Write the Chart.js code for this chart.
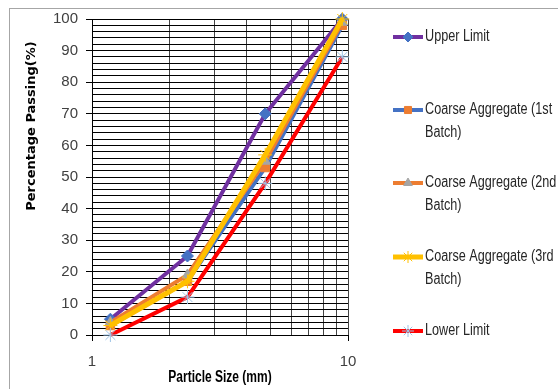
<!DOCTYPE html>
<html>
<head>
<meta charset="utf-8">
<script src="https://cdn.jsdelivr.net/npm/chart.js@4.4.1/dist/chart.umd.min.js"></script>
<style>
html, body { margin: 0; padding: 0; background: #fff; }
#wrap { width: 558px; height: 389px; }
</style>
</head>
<body>
<div id="wrap"><canvas id="gradingChart" width="558" height="389"></canvas></div>
<script>
// sieve sizes (mm) and % passing
const sieveSizes = [1.18, 2.36, 4.75, 9.5];
const upperLimit = [5, 25, 70, 100];
const batch1 = [3, 17, 53, 98];
const batch2 = [4, 19, 55, 99];
const batch3 = [3, 17, 57, 100];
const lowerLimit = [0, 12, 48, 88];

const seriesNames = ['Upper Limit', 'Coarse Aggregate (1st Batch)', 'Coarse Aggregate (2nd Batch)', 'Coarse Aggregate (3rd Batch)', 'Lower Limit'];
const legendLines = [['Upper Limit'], ['Coarse Aggregate (1st', 'Batch)'], ['Coarse Aggregate (2nd', 'Batch)'], ['Coarse Aggregate (3rd', 'Batch)'], ['Lower Limit']];
const xTickLabels = [1, 10];
const yTickLabels = [0, 10, 20, 30, 40, 50, 60, 70, 80, 90, 100];
const xTitle = 'Particle Size (mm)';
const yTitle = 'Percentage Passing(%)';

function points(values) {
    return sieveSizes.map((x, i) => ({ x: x, y: values[i] }));
}

const sans = '"Liberation Sans", Arial, sans-serif';

// squeeze text a bit so it looks like the narrow Excel font
function narrowText(ctx, text, x, y, squeeze) {
    let w = ctx.measureText(text).width;
    ctx.fillText(text, x, y, w * squeeze);
}

// grey frame round the whole chart, like the Excel chart area
const framePlugin = {
    id: 'frame',
    beforeDraw(chart) {
        let ctx = chart.ctx;
        ctx.save();
        ctx.strokeStyle = '#a6a6a6';
        ctx.lineWidth = 1;
        ctx.strokeRect(9.5, 8.5, 600, 420);
        ctx.restore();
    }
};

const titlesPlugin = {
    id: 'titles',
    afterDraw(chart) {
        let ctx = chart.ctx;
        ctx.save();
        ctx.fillStyle = '#000';
        ctx.textAlign = 'center';
        ctx.textBaseline = 'middle';
        ctx.font = 'bold 16px ' + sans;
        narrowText(ctx, xTitle, 220, 378, 0.75);
        ctx.translate(32, 126);
        ctx.rotate(-Math.PI / 2);
        ctx.font = 'bold 13px "DejaVu Sans", sans-serif';
        ctx.fillText(yTitle, 0, 0);
        ctx.restore();
    }
};

// legend on the right with wrapped labels
const legendPlugin = {
    id: 'sideLegend',
    afterDraw(chart) {
        let ctx = chart.ctx;
        let ys = [37, 110, 183, 257, 331];
        ctx.save();
        chart.data.datasets.forEach((ds, i) => {
            let y = ys[i];
            ctx.strokeStyle = ds.borderColor;
            ctx.lineWidth = ds.borderWidth;
            ctx.beginPath();
            ctx.moveTo(393, y);
            ctx.lineTo(423, y);
            ctx.stroke();
            ctx.fillStyle = ds.pointBackgroundColor;
            ctx.strokeStyle = ds.pointBorderColor;
            ctx.lineWidth = ds.pointBorderWidth;
            Chart.helpers.drawPoint(ctx, {
                pointStyle: ds.pointStyle,
                radius: ds.pointRadius - 1,
                borderWidth: ds.pointBorderWidth,
                rotation: 0
            }, 408, y);
            ctx.fillStyle = '#262626';
            ctx.font = '16px ' + sans;
            ctx.textAlign = 'left';
            ctx.textBaseline = 'middle';
            legendLines[i].forEach((line, k) => {
                narrowText(ctx, line, 425, y + k * 23, 0.79);
            });
        });
        ctx.restore();
    }
};

function makeSet(i, values, lineColor, lineWidth, style, radius, fill, edge) {
    return {
        label: seriesNames[i],
        data: points(values),
        borderColor: lineColor,
        borderWidth: lineWidth,
        tension: 0,
        pointStyle: style,
        pointRadius: radius,
        pointBackgroundColor: fill,
        pointBorderColor: edge,
        pointBorderWidth: 1,
        order: 4 - i,
        clip: false
    };
}

let ctx = document.getElementById('gradingChart').getContext('2d');

new Chart(ctx, {
    type: 'line',
    data: {
        datasets: [
            makeSet(0, upperLimit, '#7030A0', 4, 'rectRot', 6, '#4472C4', '#4472C4'),
            makeSet(1, batch1, '#4472C4', 4, 'rect', 6, '#ED7D31', '#ED7D31'),
            makeSet(2, batch2, '#ED7D31', 4, 'triangle', 6, '#A5A5A5', '#A5A5A5'),
            makeSet(3, batch3, '#FFC000', 5, 'star', 7, '#FFC000', '#FFC000'),
            makeSet(4, lowerLimit, '#FF0000', 4, 'star', 7, '#9DC3E6', '#9DC3E6')
        ]
    },
    options: {
        responsive: false,
        animation: false,
        devicePixelRatio: 1,
        layout: { padding: { left: 10, top: 19, right: 210, bottom: 0 } },
        plugins: {
            legend: { display: false },
            tooltip: { enabled: false }
        },
        scales: {
            x: {
                type: 'logarithmic',
                min: 1,
                max: 10,
                afterBuildTicks: scale => {
                    let t = [];
                    for (let v = 1; v <= 10; v++) t.push({ value: v, major: xTickLabels.includes(v) });
                    scale.ticks = t;
                },
                afterFit: scale => { scale.height = 54; },
                ticks: {
                    autoSkip: false,
                    maxRotation: 0,
                    padding: 12,
                    color: '#404040',
                    font: { family: sans, size: 15 },
                    callback: v => xTickLabels.includes(v) ? String(v) : ''
                },
                grid: {
                    color: '#444',
                    tickLength: 6,
                    tickColor: c => (c.tick && xTickLabels.includes(c.tick.value)) ? '#000' : 'rgba(0,0,0,0)'
                },
                border: { color: '#000', width: 1 }
            },
            y: {
                min: 0,
                max: 100,
                afterFit: scale => { scale.width = 82; },
                ticks: {
                    stepSize: 2,
                    autoSkip: false,
                    padding: 8,
                    color: '#404040',
                    font: { family: sans, size: 15 },
                    callback: v => yTickLabels.includes(v) ? String(v) : ''
                },
                grid: {
                    color: '#000',
                    tickLength: 6,
                    tickColor: c => (c.tick && yTickLabels.includes(c.tick.value)) ? '#000' : 'rgba(0,0,0,0)'
                },
                border: { color: '#000', width: 1 }
            }
        }
    },
    plugins: [framePlugin, titlesPlugin, legendPlugin]
});
</script>
</body>
</html>
